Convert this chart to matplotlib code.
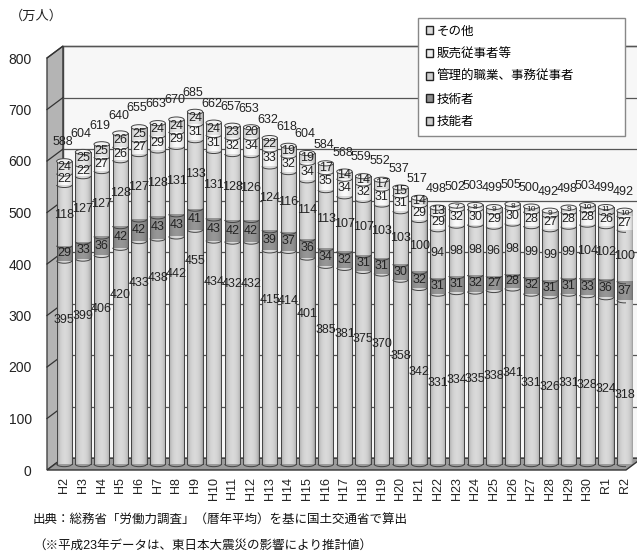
import numpy as np
import matplotlib.pyplot as plt
from matplotlib.patches import Polygon, Ellipse, Arc, Patch

plt.rcParams['font.family'] = ['Liberation Sans', 'Noto Sans CJK JP', 'DejaVu Sans']

years = ['H2', 'H3', 'H4', 'H5', 'H6', 'H7', 'H8', 'H9', 'H10', 'H11', 'H12', 'H13',
         'H14', 'H15', 'H16', 'H17', 'H18', 'H19', 'H20', 'H21', 'H22', 'H23', 'H24',
         'H25', 'H26', 'H27', 'H28', 'H29', 'H30', 'R1', 'R2']
skilled = [395, 399, 406, 420, 433, 438, 442, 455, 434, 432, 432, 415, 414, 401, 385, 381,
           375, 370, 358, 342, 331, 334, 335, 338, 341, 331, 326, 331, 328, 324, 318]
engineers = [29, 33, 36, 42, 42, 43, 43, 41, 43, 42, 42, 39, 37, 36, 34, 32,
             31, 31, 30, 32, 31, 31, 32, 27, 28, 32, 31, 31, 33, 36, 37]
clerical = [118, 127, 127, 128, 127, 128, 131, 133, 131, 128, 126, 124, 116, 114, 113, 107,
            107, 103, 103, 100, 94, 98, 98, 96, 98, 99, 99, 99, 104, 102, 100]
sales = [22, 22, 27, 26, 27, 29, 29, 31, 31, 32, 34, 33, 32, 34, 35, 34,
         32, 31, 31, 29, 29, 32, 30, 29, 30, 28, 27, 28, 28, 26, 27]
others = [24, 25, 25, 26, 25, 24, 24, 24, 24, 23, 20, 22, 19, 19, 17, 14,
          14, 17, 15, 14, 13, 7, 8, 9, 8, 10, 9, 9, 10, 11, 10]
totals = [588, 604, 619, 640, 655, 663, 670, 685, 662, 657, 653, 632, 618, 604, 584, 568,
          559, 552, 537, 517, 498, 502, 503, 499, 505, 500, 492, 498, 503, 499, 492]

series = [skilled, engineers, clerical, sales, others]
names = ['技能者', '技術者', '管理的職業、事務従事者', '販売従事者等', 'その他']
colors = ['#cdcdcd', '#8e8e8e', '#cfcfcf', '#ededed', '#dadada']

W, H = 637, 552
fig = plt.figure(figsize=(W / 100, H / 100), dpi=100)
ax = fig.add_axes([47 / W, (H - 470) / H, 579 / W, 412 / H])
ax.set_xlim(-0.5, 30.5)
ax.set_ylim(0, 800)

# depth of the 3d box in data units
DX, DY = 0.85, 23
x0, x1 = -0.5, 30.5

# back wall, side wall and floor
ax.add_patch(Polygon([(x0 + DX, DY), (x1 + DX, DY), (x1 + DX, 800 + DY), (x0 + DX, 800 + DY)],
                     closed=True, fc='#f7f7f7', ec='#444', lw=1.0, zorder=0.5, clip_on=False))
for v in range(100, 801, 100):
    ax.plot([x0 + DX, x1 + DX], [v + DY, v + DY], color='#555', lw=0.9, zorder=0.6, clip_on=False)
    ax.plot([x0, x0 + DX], [v, v + DY], color='#333', lw=0.9, zorder=0.8, clip_on=False)
ax.add_patch(Polygon([(x0, 0), (x0 + DX, DY), (x0 + DX, 800 + DY), (x0, 800)],
                     closed=True, fc='#b4b4b4', ec='#444', lw=1.0, zorder=0.7, clip_on=False))
ax.add_patch(Polygon([(x0, 0), (x1, 0), (x1 + DX, DY), (x0 + DX, DY)],
                     closed=True, fc='#9a9a9a', ec='#333', lw=1.0, zorder=0.7, clip_on=False))

# cylinder shading across the bar width
t = np.linspace(-1, 1, 40)
shade = 0.72 + 0.34 * np.sqrt(1 - t ** 2)
bw, eh = 0.82, 10

for i in range(len(years)):
    cx = i + DX / 2
    base = DY / 2
    for vals, col in zip(series, colors):
        v = vals[i]
        rgb = np.array(plt.matplotlib.colors.to_rgb(col))
        img = np.clip(shade[None, :, None] * rgb[None, None, :], 0, 1)
        ax.imshow(img, extent=[cx - bw / 2, cx + bw / 2, base, base + v], aspect='auto',
                  interpolation='bilinear', zorder=2, clip_on=False)
        ax.plot([cx - bw / 2, cx - bw / 2], [base, base + v], color='#444', lw=0.7, zorder=2.5)
        ax.plot([cx + bw / 2, cx + bw / 2], [base, base + v], color='#444', lw=0.7, zorder=2.5)
        ax.add_patch(Arc((cx, base), bw, eh, theta1=180, theta2=360, color='#444', lw=0.7, zorder=2.6))
        base += v
    ax.add_patch(Ellipse((cx, base), bw, eh, fc='#f2f2f2', ec='#444', lw=0.7, zorder=2.7, clip_on=False))

    # value labels
    lbl = dict(ha='center', va='center', fontsize=9, color='#222', zorder=5,
               family=['Liberation Sans Narrow', 'Liberation Sans'])
    ax.text(cx, 1.9 * skilled[i] - 459, str(skilled[i]), **lbl)
    b = DY / 2 + skilled[i]
    for vals in series[1:]:
        v = vals[i]
        fs = 9 if v >= 12 else 6
        lbl['fontsize'] = fs
        ax.text(cx, b + v / 2, str(v), **lbl)
        b += v
    lbl['fontsize'] = 9
    ax.text(cx - 0.1, totals[i] + 48, str(totals[i]), **lbl)

ax.set_xticks([i + DX / 2 for i in range(len(years))])
ax.set_xticklabels(years, rotation=90, fontsize=9, color='#222')
ax.set_yticks(range(0, 801, 100))
ax.set_yticklabels([str(v) for v in range(0, 801, 100)], fontsize=10, color='#222')
ax.tick_params(length=0)
ax.tick_params(axis='y', pad=11)
ax.tick_params(axis='x', pad=5)
for s in ax.spines.values():
    s.set_visible(False)

handles = [Patch(fc=c, ec='#222', lw=1.0, label=n) for n, c in zip(names, colors)][::-1]
fig.legend(handles=handles, loc='upper left',
           bbox_to_anchor=(418 / W, 1 - 140 / H, 207 / W, 122 / H), mode='expand',
           fontsize=9, frameon=True, fancybox=False, edgecolor='#888', framealpha=1,
           handlelength=0.6, handleheight=0.6, handletextpad=0.3, labelspacing=0.85,
           borderpad=0.6, borderaxespad=0)

fig.text(10 / W, 1 - 16 / H, '（万人）', fontsize=9.5, va='center', ha='left', color='#222')
fig.text(33 / W, 1 - 521 / H, '出典：総務省「労働力調査」（暦年平均）を基に国土交通省で算出',
         fontsize=9, va='center', ha='left', color='#111')
fig.text(33 / W, 1 - 546 / H, '（※平成23年データは、東日本大震災の影響により推計値）',
         fontsize=9, va='center', ha='left', color='#111')

fig.savefig('out.png', dpi=100)
